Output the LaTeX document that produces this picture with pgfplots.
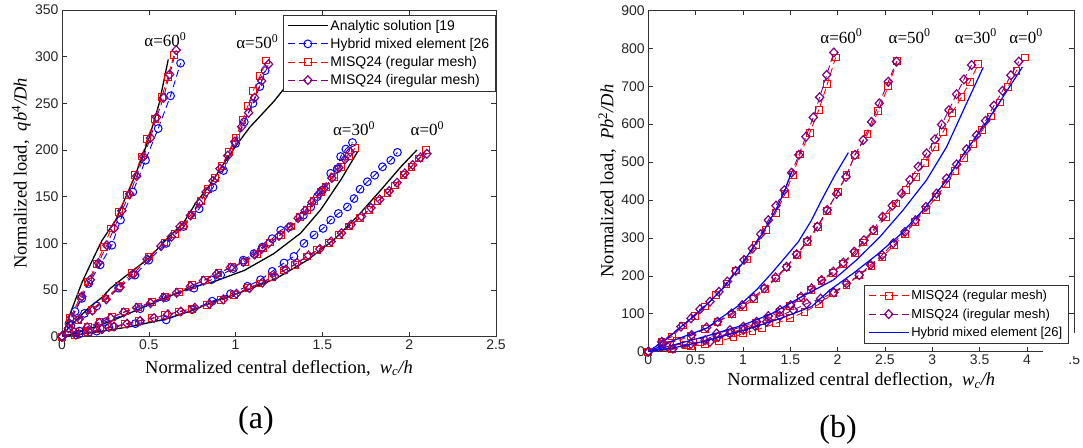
\documentclass[border=0pt]{standalone}
\usepackage{fontspec}
\setmainfont{Liberation Sans}
\newfontfamily\serif{Liberation Serif}
\usepackage{pgfplots}
\pgfplotsset{compat=1.18}

\definecolor{mblue}{RGB}{0,0,255}
\definecolor{mred}{RGB}{255,0,0}
\definecolor{mpurple}{RGB}{128,0,128}

\tikzset{alab/.style={font=\serif\fontsize{17bp}{19bp}\selectfont}}

\pgfplotsset{
  panel/.style={
    scale only axis, anchor=south west, clip mode=individual,
    font=\fontsize{14bp}{16bp}\selectfont,
    /pgf/number format/assume math mode=true,
    tick label style={black!85},
    axis line style={line width=0.7pt, black!80},
    every tick/.style={black!80, line width=0.6pt},
    major tick length=5bp,
    label style={font=\serif\fontsize{18.5bp}{22bp}\selectfont},
    legend style={font=\fontsize{14bp}{15bp}\selectfont, draw=black!80, line width=0.7pt,
      fill=white, inner xsep=4bp, inner ysep=3bp, row sep=2.5bp, cells={anchor=west}},
    legend image code/.code={\draw[mark repeat=2, mark phase=2, #1]
      plot coordinates {(0bp,0bp) (20bp,0bp) (40bp,0bp)};},
  },
  ana/.style={black, line width=1.3pt, mark=none},
  hyb/.style={mblue, line width=0.9pt, dash pattern=on 7pt off 4pt, mark=o, mark size=3.9bp,
    mark options={solid, line width=1pt}},
  hybl/.style={mblue, line width=1.2pt, mark=none},
  reg/.style={mred, line width=0.9pt, dash pattern=on 7pt off 4pt, mark=square, mark size=3.4bp,
    mark options={solid, line width=1pt}},
  irr/.style={mpurple, line width=0.9pt, dash pattern=on 7pt off 4pt, mark=diamond, mark size=4.4bp,
    mark options={solid, line width=1.2pt, xscale=1.25}},
}

\begin{document}
\begin{tikzpicture}
% ---------------- (a) uniform load ----------------
\begin{axis}[panel,
  at={(62bp,111.3bp)}, width=434bp, height=326.7bp,
  xmin=0, xmax=2.5, ymin=0, ymax=350,
  xtick={0,0.5,1,1.5,2,2.5}, ytick={0,50,100,150,200,250,300,350},
  xlabel={Normalized central deflection,\ \ \textit{w}\textsubscript{\textit{c}}\textit{/h}},
  ylabel={Normalized load,\ \ \textit{qb}\textsuperscript{4}\textit{/Dh}},
  xlabel style={at={(axis description cs:0.5,-0.112)}, anchor=base},
  ylabel style={at={(axis description cs:-0.094,0.5)}, anchor=center},
  legend style={at={(0.999,0.986)}, anchor=north east},
]
% alpha = 60
\addplot[ana] coordinates {(0,0) (0.02,10) (0.056,29) (0.115,58) (0.17,80) (0.23,103) (0.31,125)
  (0.42,172) (0.5,212) (0.56,250) (0.612,297)};
\addlegendentry{Analytic solution [19}
\addplot[hyb] coordinates {(0,0) (0.04,14) (0.075,27) (0.114,41) (0.154,57) (0.22,77) (0.287,98)
  (0.337,125) (0.408,155) (0.481,189) (0.554,223) (0.625,258) (0.683,293)};
\addlegendentry{Hybrid mixed element [26}
\addplot[reg] coordinates {(0,0) (0.048,20) (0.106,43) (0.151,59) (0.199,78) (0.241,96) (0.283,116)
  (0.328,134) (0.374,152) (0.418,173) (0.458,193) (0.491,212) (0.535,233) (0.575,257) (0.61,278) (0.645,302)};
\addlegendentry{MISQ24 (regular mesh)}
\addplot[irr] coordinates {(0,0) (0.056,21) (0.114,43) (0.163,61) (0.21,79) (0.258,98) (0.3,116)
  (0.345,135) (0.39,153) (0.43,172) (0.47,193) (0.51,213) (0.545,235) (0.585,256) (0.62,281) (0.658,307)};
\addlegendentry{MISQ24 (iregular mesh)}
% alpha = 50
\addplot[ana, forget plot] coordinates {(0,0) (0.04,10) (0.095,20) (0.16,32) (0.23,42) (0.28,52)
  (0.36,64) (0.5,84) (0.6,104) (0.7,122) (0.77,143) (0.85,162) (0.92,182) (1.0,204) (1.08,224)
  (1.16,240) (1.22,252) (1.28,266) (1.34,290)};
\addplot[hyb, forget plot] coordinates {(0,0) (0.05,12) (0.13,25) (0.2,33) (0.326,52) (0.42,66)
  (0.5,82) (0.6,100) (0.7,118) (0.79,137) (0.87,160) (0.93,178) (1.0,207) (1.05,230) (1.1,250)
  (1.14,268) (1.17,285)};
\addplot[reg, forget plot] coordinates {(0,0) (0.04,9) (0.095,18) (0.17,29) (0.25,41) (0.33,54)
  (0.4,68) (0.5,86) (0.59,101) (0.65,110) (0.7,120) (0.75,130) (0.8,145) (0.84,158) (0.88,170)
  (0.92,183) (0.96,198) (1.0,213) (1.04,232) (1.07,247) (1.1,263) (1.14,279) (1.176,296)};
\addplot[irr, forget plot] coordinates {(0,0) (0.037,9) (0.1,19) (0.175,28) (0.255,40) (0.335,53)
  (0.41,67) (0.49,83) (0.57,97) (0.63,107) (0.68,118) (0.74,130) (0.79,143) (0.83,155) (0.87,167)
  (0.91,180) (0.955,194) (0.995,209) (1.035,225) (1.075,240) (1.11,256) (1.15,274) (1.19,292)};
% alpha = 30
\addplot[ana, forget plot] coordinates {(0,0) (0.1,5) (0.2,11) (0.3,18) (0.45,30) (0.6,42) (0.75,53)
  (0.875,59) (1.05,71) (1.22,89) (1.375,111) (1.49,136) (1.606,168) (1.702,198)};
\addplot[hyb, forget plot] coordinates {(0,0) (0.1,6) (0.25,16) (0.45,30) (0.6,42) (0.76,52)
  (0.86,61) (0.914,66) (0.987,73) (1.044,82) (1.106,89) (1.154,96) (1.211,105) (1.26,114)
  (1.317,118) (1.39,130) (1.433,139) (1.471,150) (1.5,157) (1.548,175) (1.586,180) (1.605,193)
  (1.635,201) (1.673,208)};
\addplot[reg, forget plot] coordinates {(0,0) (0.075,5) (0.152,11) (0.22,16) (0.287,21) (0.364,27)
  (0.441,32) (0.518,37.5) (0.594,43) (0.672,48) (0.749,55) (0.825,61) (0.902,68) (0.979,75)
  (1.056,80) (1.123,89) (1.16,95) (1.2,101) (1.26,109) (1.317,118) (1.37,128) (1.41,136)
  (1.452,145) (1.49,155) (1.519,160) (1.567,171) (1.606,182) (1.654,193) (1.687,202)};
\addplot[irr, forget plot] coordinates {(0,0) (0.07,5) (0.145,10) (0.215,15) (0.28,20) (0.355,26)
  (0.43,31) (0.51,36) (0.585,42) (0.66,47) (0.74,54) (0.815,60) (0.89,67) (0.97,74) (1.045,80)
  (1.11,88) (1.15,94) (1.19,100) (1.25,108) (1.305,117) (1.36,127) (1.4,135) (1.44,144) (1.48,153)
  (1.51,159) (1.555,170) (1.595,181) (1.63,190) (1.66,198)};
% alpha = 0
\addplot[ana, forget plot] coordinates {(0,0) (0.2,5) (0.4,11) (0.6,19) (0.75,28) (0.894,39)
  (1.068,50) (1.24,63) (1.413,82) (1.567,104) (1.702,129) (1.836,157) (1.952,182) (2.044,200)};
\addplot[hyb, forget plot] coordinates {(0,0) (0.1,3) (0.2,6) (0.27,10) (0.422,14) (0.6,18)
  (0.749,29) (0.865,38) (0.971,46) (1.068,54) (1.144,61) (1.211,70) (1.279,79) (1.336,86)
  (1.394,100) (1.452,109) (1.504,116) (1.548,125) (1.592,132) (1.644,139) (1.682,148) (1.717,158)
  (1.759,166) (1.801,173) (1.846,182) (1.894,189) (1.932,197.5)};
\addplot[reg, forget plot] coordinates {(0,0) (0.075,2) (0.152,5) (0.22,8) (0.287,10) (0.364,13.6)
  (0.441,17) (0.518,20) (0.594,23) (0.672,27) (0.749,30) (0.837,34) (0.914,39) (0.991,45)
  (1.068,52) (1.14,57) (1.211,64) (1.279,71) (1.34,77) (1.409,86) (1.471,93) (1.538,100)
  (1.596,109) (1.654,118) (1.717,127) (1.769,136) (1.817,145) (1.875,154) (1.919,162) (1.967,173)
  (2.013,182) (2.057,191) (2.096,200)};
\addplot[irr, forget plot] coordinates {(0,0) (0.08,2) (0.16,5) (0.23,8) (0.3,11) (0.375,14)
  (0.45,17) (0.53,20) (0.61,24) (0.685,27) (0.765,31) (0.85,35) (0.93,40) (1.005,46) (1.08,52)
  (1.155,58) (1.225,65) (1.29,72) (1.355,79) (1.42,87) (1.485,94) (1.55,102) (1.61,111) (1.665,120)
  (1.725,129) (1.78,138) (1.83,147) (1.885,156) (1.93,165) (1.975,175) (2.02,184) (2.065,192)
  (2.102,196)};
\node[alab] at (axis cs:0.596,318) {α=60\textsuperscript{0}};
\node[alab] at (axis cs:1.125,316) {α=50\textsuperscript{0}};
\node[alab] at (axis cs:1.682,223) {α=30\textsuperscript{0}};
\node[alab] at (axis cs:2.105,223) {α=0\textsuperscript{0}};
\end{axis}

% ---------------- (b) point load ----------------
\begin{axis}[panel,
  at={(648.3bp,96.3bp)}, width=426bp, height=341.3bp,
  xmin=0, xmax=4.5, ymin=0, ymax=900,
  xtick={0,0.5,1,1.5,2,2.5,3,3.5,4,4.5},
  xticklabels={0,0.5,1,1.5,2,2.5,3,3.5,4,.5},
  ytick={0,100,200,300,400,500,600,700,800,900},
  xlabel={Normalized central deflection,\ \ \textit{w}\textsubscript{\textit{c}}\textit{/h}},
  ylabel={Normalized load,\ \ \textit{Pb}\textsuperscript{2}\textit{/Dh}},
  xlabel style={at={(axis description cs:0.5,-0.1)}, anchor=base},
  ylabel style={at={(axis description cs:-0.096,0.5)}, anchor=center},
  legend style={at={(axis cs:4.44,22)}, anchor=south east,
    font=\fontsize{13bp}{15bp}\selectfont, row sep=3.5bp},
]
% alpha = 60
\addplot[reg] coordinates {(0,0) (0.14,26) (0.25,40) (0.37,69) (0.493,94) (0.599,119) (0.715,149)
  (0.827,178) (0.926,214) (1.039,243) (1.137,281) (1.239,321) (1.345,366) (1.444,416) (1.525,466)
  (1.602,520) (1.704,576) (1.8,637) (1.891,706) (1.979,776)};
\addlegendentry{MISQ24 (regular mesh)}
\addplot[irr] coordinates {(0,0) (0.141,26) (0.345,66) (0.451,88) (0.546,112) (0.651,132)
  (0.746,158) (0.835,185) (0.923,213) (1.011,242) (1.099,272) (1.187,310) (1.268,347) (1.349,385)
  (1.437,426) (1.514,472) (1.59,519) (1.665,567) (1.743,618) (1.81,671) (1.884,730) (1.96,789)};
\addlegendentry{MISQ24 (iregular mesh)}
\addplot[hybl] coordinates {(0,0) (0.2,35) (0.4,77) (0.6,120) (0.8,170) (1.0,235) (1.2,310)
  (1.35,375) (1.45,430) (1.514,475)};
\addlegendentry{Hybrid mixed element [26]}
% alpha = 50
\addplot[reg, forget plot] coordinates {(0,0) (0.15,20) (0.3,28) (0.45,42) (0.6,60) (0.73,78)
  (0.88,98) (1.0,118) (1.12,140) (1.23,165) (1.35,193) (1.46,222) (1.57,255) (1.68,290) (1.79,328)
  (1.89,372) (2.0,422) (2.094,466) (2.183,519) (2.316,574) (2.429,635) (2.535,700) (2.63,767)};
\addplot[irr, forget plot] coordinates {(0,0) (0.16,22) (0.458,44) (0.616,64) (0.732,79) (0.88,101)
  (0.993,123) (1.109,143) (1.225,167) (1.345,196) (1.461,224) (1.567,257) (1.68,292) (1.785,330)
  (1.89,374) (1.989,416) (2.088,461) (2.183,519) (2.27,558) (2.358,606) (2.44,655) (2.535,712)
  (2.622,765)};
\addplot[hybl, forget plot] coordinates {(0,0) (0.3,33) (0.616,62) (0.8,95) (0.986,127) (1.15,165)
  (1.303,207) (1.45,250) (1.585,290) (1.72,345) (1.831,400) (1.972,466) (2.113,525)};
% alpha = 30
\addplot[reg, forget plot] coordinates {(0,0) (0.2,15) (0.4,18) (0.55,25) (0.72,38) (0.87,50)
  (1.0,60) (1.14,75) (1.27,90) (1.39,105) (1.5,120) (1.61,142) (1.72,163) (1.83,186) (1.95,208)
  (2.06,232) (2.18,260) (2.27,288) (2.38,318) (2.509,356) (2.615,391) (2.72,426) (2.826,461)
  (2.925,497) (3.027,540) (3.115,580) (3.21,630) (3.308,671) (3.396,712) (3.485,758)};
\addplot[irr, forget plot] coordinates {(0,0) (0.2,14) (0.45,20) (0.6,30) (0.722,48) (0.863,57)
  (1.004,66) (1.144,79) (1.268,94) (1.391,110) (1.504,123) (1.613,145) (1.725,167) (1.831,189)
  (1.954,211) (2.06,235) (2.176,264) (2.278,294) (2.376,321) (2.475,356) (2.577,385) (2.676,417)
  (2.764,453) (2.852,488) (2.94,523) (3.027,560) (3.098,599) (3.175,637) (3.256,679) (3.334,718)
  (3.415,756)};
\addplot[hybl, forget plot] coordinates {(0,0) (0.3,20) (0.6,40) (1.0,70) (1.3,100) (1.62,145)
  (1.954,189) (2.2,242) (2.447,303) (2.693,374) (2.94,453) (3.151,540) (3.362,655) (3.538,750)};
% alpha = 0
\addplot[reg, forget plot] coordinates {(0,0) (0.25,6) (0.45,14) (0.6,20) (0.75,28) (0.9,38)
  (1.0,48) (1.1,55) (1.2,62) (1.35,75) (1.5,88) (1.65,105) (1.8,125) (1.954,154) (2.094,176)
  (2.228,202) (2.358,226) (2.474,250) (2.594,281) (2.711,310) (2.82,343) (2.93,374) (3.042,407)
  (3.141,441) (3.236,476) (3.331,510) (3.43,548) (3.529,584) (3.624,620) (3.712,657) (3.8,699)
  (3.889,741) (3.976,776)};
\addplot[irr, forget plot] coordinates {(0,0) (0.26,8) (0.651,26) (0.739,40) (0.863,48) (1.004,57)
  (1.127,68) (1.25,79) (1.39,94) (1.532,110) (1.673,127) (1.82,140) (1.96,156) (2.094,180)
  (2.228,202) (2.348,229) (2.47,255) (2.588,286) (2.711,316) (2.823,347) (2.932,382) (3.045,417)
  (3.151,457) (3.257,494) (3.362,534) (3.468,571) (3.563,609) (3.651,649) (3.742,688) (3.83,729)
  (3.914,765)};
\addplot[hybl, forget plot] coordinates {(0,0) (0.3,12) (0.6,28) (1.02,57) (1.4,88) (1.725,119)
  (1.92,163) (2.166,207) (2.412,255) (2.658,308) (2.905,374) (3.151,453) (3.326,519) (3.572,605)
  (3.783,686) (3.952,751)};
\node[alab] at (axis cs:2.04,832) {α=60\textsuperscript{0}};
\node[alab] at (axis cs:2.76,832) {α=50\textsuperscript{0}};
\node[alab] at (axis cs:3.46,832) {α=30\textsuperscript{0}};
\node[alab] at (axis cs:3.99,832) {α=0\textsuperscript{0}};
\end{axis}
% gaps in the frame at the lower right of (b), as in the reference
\fill[white] (1043bp,92bp) rectangle (1080bp,100.3bp);
\fill[white] (1070.5bp,92bp) rectangle (1080bp,115bp);

\node[font=\serif\fontsize{32bp}{36bp}\selectfont] at (256bp,27bp) {(a)};
\node[font=\serif\fontsize{32bp}{36bp}\selectfont] at (838bp,18bp) {(b)};

\pgfresetboundingbox
\path[use as bounding box] (0,0) rectangle (1083bp,448bp);
\end{tikzpicture}
\end{document}
